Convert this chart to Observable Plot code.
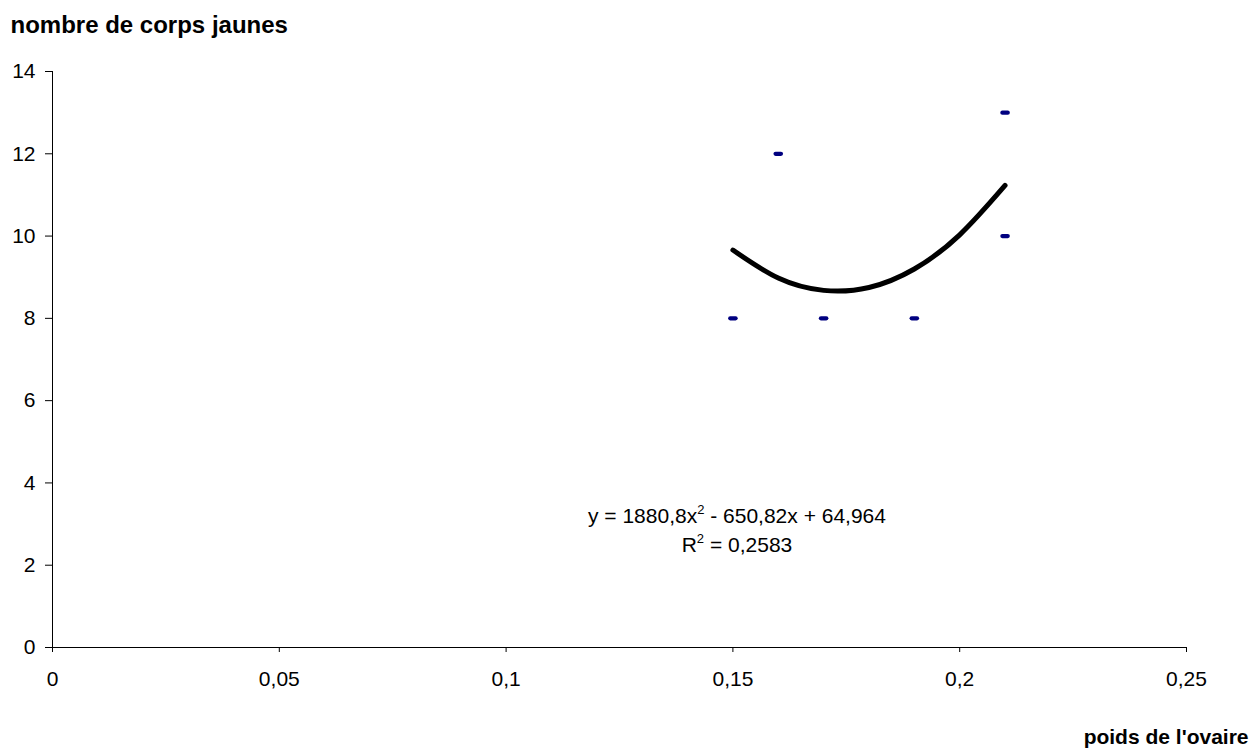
<!DOCTYPE html>
<html>
<head>
<meta charset="utf-8">
<script src="https://cdn.jsdelivr.net/npm/d3@7"></script>
<script src="https://cdn.jsdelivr.net/npm/@observablehq/plot@0.6"></script>
<style>
  html, body { margin: 0; padding: 0; background: #fff; }
  #chart { width: 1253px; height: 749px; }
</style>
</head>
<body>
<div id="chart"></div>
<script>
// Observed points (poids de l'ovaire, nombre de corps jaunes)
const poids = [0.15, 0.16, 0.17, 0.19, 0.21, 0.21];
const corps = [8, 12, 8, 8, 13, 10];

// Trend curve
const trendX = [0.15, 0.16, 0.17, 0.18, 0.19, 0.20, 0.21];
const trendY = [9.66, 8.98, 8.68, 8.75, 9.2, 10.03, 11.23];

const xTicks = [0, 0.05, 0.1, 0.15, 0.2, 0.25];
const yTicks = [0, 2, 4, 6, 8, 10, 12, 14];

const yTitle = "nombre de corps jaunes";
const xTitle = "poids de l'ovaire";
const eqLine1 = "y = 1880,8x² - 650,82x + 64,964";
const eqLine2 = "R² = 0,2583";

const points = poids.map((p, i) => ({x: p, y: corps[i]}));
const trend = trendX.map((p, i) => ({x: p, y: trendY[i]}));

const dash = {
  draw(ctx, size) {
    const w = 4.8, h = 2.1;
    ctx.moveTo(-w + h, -h);
    ctx.lineTo(w - h, -h);
    ctx.arc(w - h, 0, h, -Math.PI / 2, Math.PI / 2);
    ctx.lineTo(-w + h, h);
    ctx.arc(-w + h, 0, h, Math.PI / 2, 3 * Math.PI / 2);
    ctx.closePath();
  }
};

const fmt = d => String(d).replace(".", ",");
const FONT = "'Liberation Sans', Arial, sans-serif";

const chart = Plot.plot({
  width: 1253,
  height: 749,
  marginLeft: 52,
  marginRight: 67,
  marginTop: 71,
  marginBottom: 102,
  style: {fontFamily: FONT, fontSize: "21px", color: "#000", background: "#fff"},
  x: {domain: [0, 0.25]},
  y: {domain: [0, 14]},
  marks: [
    Plot.axisX({ticks: xTicks, tickFormat: fmt, tickSize: 5, tickPadding: 19, label: null, stroke: "#000", fontSize: 21}),
    Plot.axisY({ticks: yTicks, tickFormat: fmt, tickSize: 7, tickPadding: 10, label: null, stroke: "#000", fontSize: 21}),
    Plot.ruleY([0], {x1: 0, x2: 0.25, stroke: "#000"}),
    Plot.ruleX([0], {y1: 0, y2: 14, stroke: "#000"}),
    Plot.line(trend, {x: "x", y: "y", curve: "natural", stroke: "#000", strokeWidth: 5, strokeLinecap: "round"}),
    Plot.dot(points, {x: "x", y: "y", symbol: dash, r: 4, fill: "#000080", stroke: "none"}),
    Plot.text([eqLine1], {x: 0.1509, y: 3.038, text: d => d, textAnchor: "middle", lineAnchor: "bottom", fontSize: 21, fill: "#000", className: "eq"}),
    Plot.text([eqLine2], {x: 0.1509, y: 2.31, text: d => d, textAnchor: "middle", lineAnchor: "bottom", fontSize: 21, fill: "#000", className: "eq"}),
    Plot.text([yTitle], {frameAnchor: "top-left", dx: -42, dy: -46.5, text: d => d, textAnchor: "start", lineAnchor: "middle", fontSize: 24, fontWeight: "bold", fill: "#000"}),
    Plot.text([xTitle], {frameAnchor: "bottom-right", dx: 62, dy: 90, text: d => d, textAnchor: "end", lineAnchor: "middle", fontSize: 21, fontWeight: "bold", fill: "#000"})
  ]
});

// Render the "²" as a true superscript, as in the reference
d3.select(chart).selectAll("g.eq text").each(function () {
  const t = d3.select(this);
  const s = t.text();
  const parts = s.split("²");
  t.text(null);
  parts.forEach((p, i) => {
    if (i > 0) {
      t.append("tspan").attr("dy", -9).attr("font-size", 13).text("2");
      t.append("tspan").attr("dy", 9).text(p);
    } else {
      t.append("tspan").text(p);
    }
  });
});

document.getElementById("chart").appendChild(chart);
</script>
</body>
</html>
